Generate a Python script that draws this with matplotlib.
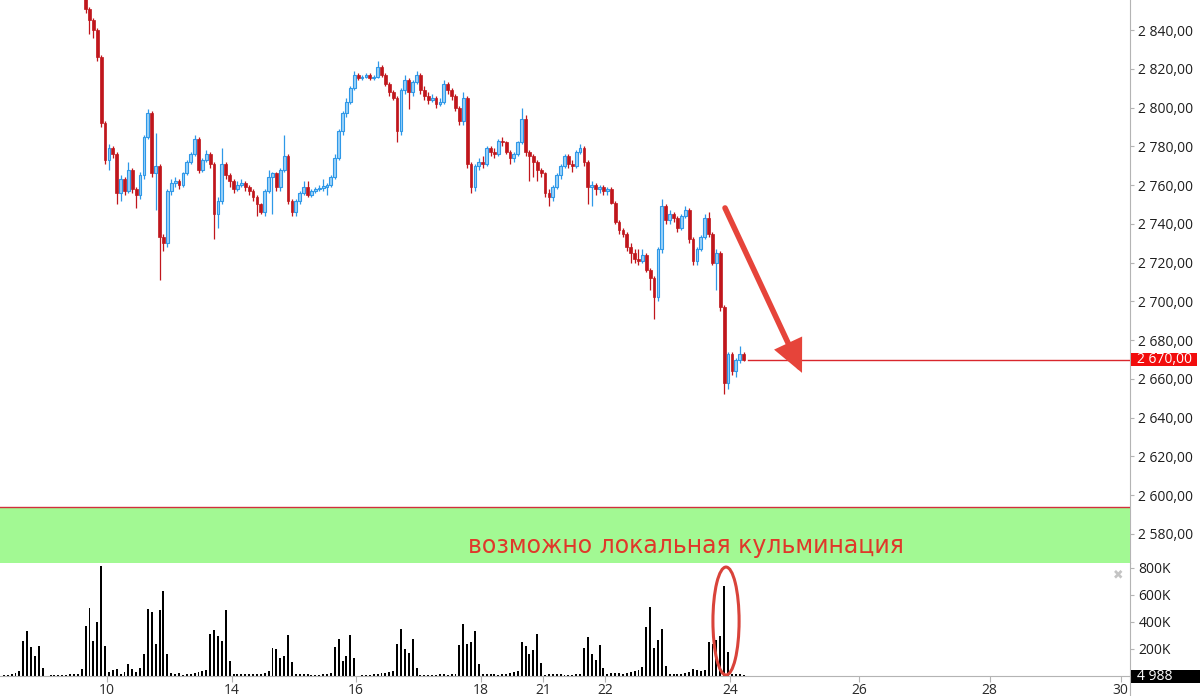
import matplotlib
matplotlib.use("Agg")
import matplotlib.pyplot as plt
import numpy as np
from matplotlib.patches import Ellipse, Rectangle
from matplotlib.lines import Line2D
from matplotlib.transforms import blended_transform_factory

plt.rcParams['font.family'] = ['Open Sans', 'DejaVu Sans']

# ---------------- data ----------------
BARS_PER_DAY = 16
session_days = [8, 9, 10, 11, 14, 15, 16, 17, 18, 21, 22, 23, 24]
first_bar = 5          # first visible bar of the first session
open0 = 2880.0

closes = {
    8: [2882, 2884, 2880, 2886, 2883, 2879, 2881, 2877, 2880, 2876, 2878],
    9: [2876, 2874, 2877, 2873, 2870, 2872, 2868, 2866, 2864, 2861, 2851, 2845, 2840, 2826, 2792, 2773],
    10: [2779, 2776, 2756, 2763, 2757, 2768, 2758, 2755, 2765, 2785, 2797, 2766, 2770, 2733, 2730, 2757],
    11: [2761, 2762, 2760, 2766, 2772, 2776, 2784, 2768, 2773, 2776, 2771, 2745, 2752, 2771, 2765, 2762],
    14: [2758, 2760, 2761, 2759, 2757, 2754, 2750, 2746, 2757, 2764, 2766, 2759, 2768, 2775, 2752, 2746],
    15: [2752, 2756, 2759, 2755, 2757, 2758, 2758.6, 2759, 2760, 2764, 2774, 2788, 2797, 2803, 2810, 2817],
    16: [2815, 2816, 2817, 2815, 2816, 2821, 2817, 2812, 2808, 2805, 2788, 2809, 2814, 2808, 2813, 2817],
    17: [2809, 2806, 2804, 2805, 2802, 2803, 2812, 2809, 2806, 2800, 2793, 2805, 2771, 2759, 2770, 2772],
    18: [2771, 2779, 2777, 2776, 2783, 2782, 2777, 2774, 2776, 2782, 2794, 2777, 2775, 2772, 2768, 2766],
    21: [2756, 2754, 2759, 2765, 2770, 2775, 2771, 2770, 2777, 2779, 2772, 2759, 2760, 2758, 2759, 2757],
    22: [2758, 2751, 2741, 2737, 2735, 2728, 2725, 2722, 2721, 2724, 2716, 2712, 2702, 2727, 2749, 2742],
    23: [2745, 2743, 2738, 2744, 2747, 2732, 2721, 2727, 2733, 2743, 2735, 2720, 2725, 2697, 2658, 2673],
    24: [2664, 2670, 2673, 2670],
}
highs = {
    8: [2884, 2886, 2885, 2888, 2887, 2884, 2883, 2882, 2882, 2881, 2880],
    9: [2879, 2877, 2879, 2878, 2874, 2874, 2873, 2869, 2867, 2865, 2862, 2852, 2846, 2841, 2827, 2793],
    10: [2781, 2780, 2777, 2765, 2764, 2772, 2769, 2759, 2767, 2786, 2799, 2798, 2787, 2771, 2735, 2758],
    11: [2763, 2764, 2763, 2767, 2773, 2777, 2786, 2785, 2774, 2778, 2777, 2772, 2754, 2779, 2772, 2766],
    14: [2763, 2762, 2763, 2762, 2760, 2758, 2755, 2751, 2758, 2768, 2767, 2767, 2769, 2786, 2776, 2753],
    15: [2753, 2757, 2762, 2762, 2758, 2759, 2760, 2763, 2761, 2765, 2776, 2789, 2798, 2805, 2811, 2819],
    16: [2818, 2817, 2818, 2818, 2817, 2824, 2822, 2818, 2813, 2809, 2806, 2810, 2817, 2815, 2814, 2819],
    17: [2818, 2811, 2808, 2807, 2806, 2805, 2814, 2813, 2810, 2807, 2801, 2808, 2806, 2772, 2771, 2774],
    18: [2775, 2780, 2780, 2779, 2784, 2785, 2783, 2778, 2777, 2783, 2800, 2796, 2778, 2776, 2773, 2769],
    21: [2767, 2758, 2760, 2766, 2771, 2776, 2776, 2773, 2778, 2781, 2780, 2773, 2762, 2761, 2760, 2760],
    22: [2759, 2759, 2752, 2742, 2738, 2736, 2730, 2727, 2727, 2727, 2725, 2717, 2713, 2728, 2753, 2750],
    23: [2747, 2746, 2744, 2745, 2749, 2748, 2733, 2728, 2734, 2745, 2746, 2736, 2727, 2726, 2698, 2674],
    24: [2674, 2671, 2677, 2674],
}
lows = {
    8: [2878, 2880, 2878, 2879, 2881, 2877, 2877, 2875, 2876, 2874, 2875],
    9: [2874, 2872, 2873, 2871, 2868, 2869, 2866, 2863, 2862, 2858, 2849, 2838, 2836, 2824, 2790, 2771],
    10: [2768, 2774, 2750, 2752, 2755, 2756, 2756, 2748, 2753, 2763, 2784, 2764, 2747, 2711, 2726, 2728],
    11: [2755, 2759, 2758, 2759, 2765, 2771, 2775, 2766, 2767, 2772, 2769, 2732, 2738, 2750, 2763, 2759],
    14: [2756, 2757, 2759, 2757, 2755, 2752, 2744, 2745, 2744, 2756, 2745, 2757, 2757, 2767, 2750, 2744],
    15: [2744, 2750, 2755, 2754, 2754, 2756, 2757, 2757, 2755, 2759, 2763, 2773, 2786, 2795, 2802, 2809],
    16: [2814, 2814, 2815, 2814, 2814, 2815, 2816, 2811, 2806, 2804, 2782, 2786, 2807, 2799, 2806, 2812],
    17: [2807, 2804, 2802, 2803, 2800, 2801, 2802, 2807, 2804, 2798, 2791, 2791, 2769, 2756, 2757, 2768],
    18: [2769, 2770, 2775, 2774, 2775, 2780, 2776, 2771, 2772, 2775, 2781, 2775, 2762, 2764, 2762, 2764],
    21: [2754, 2749, 2752, 2758, 2763, 2769, 2769, 2767, 2769, 2776, 2770, 2750, 2749, 2755, 2756, 2755],
    22: [2755, 2750, 2740, 2735, 2733, 2726, 2720, 2720, 2719, 2720, 2715, 2706, 2691, 2700, 2725, 2740],
    23: [2740, 2741, 2736, 2737, 2743, 2730, 2719, 2719, 2726, 2732, 2733, 2719, 2706, 2695, 2652, 2655],
    24: [2662, 2661, 2668, 2669],
}
volumes_k = {
    8: [8, 10, 15, 22, 35, 261, 335, 213, 150, 222, 59],
    9: [3, 5, 6, 6, 8, 10, 12, 12, 15, 52, 372, 500, 260, 402, 818, 222],
    10: [32, 44, 52, 14, 30, 89, 55, 30, 59, 163, 496, 474, 237, 488, 629, 163],
    11: [22, 15, 20, 8, 12, 14, 20, 30, 37, 44, 311, 340, 296, 261, 488, 111],
    14: [12, 12, 15, 12, 12, 12, 15, 12, 25, 37, 207, 200, 133, 150, 303, 104],
    15: [12, 12, 12, 12, 10, 10, 10, 12, 12, 25, 215, 274, 111, 148, 303, 133],
    16: [2, 5, 8, 10, 15, 17, 20, 22, 30, 37, 234, 351, 200, 168, 272, 62],
    17: [5, 5, 5, 5, 10, 12, 12, 10, 12, 15, 230, 383, 234, 250, 331, 86],
    18: [15, 12, 12, 12, 8, 15, 15, 20, 27, 37, 249, 220, 165, 190, 309, 94],
    21: [8, 15, 12, 15, 15, 8, 8, 8, 15, 17, 205, 286, 160, 116, 227, 57],
    22: [18, 20, 20, 20, 12, 25, 32, 40, 44, 67, 360, 508, 205, 270, 346, 72],
    23: [12, 15, 17, 17, 20, 27, 54, 44, 35, 48, 250, 240, 264, 294, 664, 175],
    24: [15, 17, 12, 5],
}

tick_labels = ["10", "14", "16", "18", "21", "22", "24", "26", "28", "30"]
future_tick_pos = [12.07, 14.17, 16.27]
last_price = 2670.0
last_volume = 4988
price_ticks = list(range(2580, 2841, 20))
volume_ticks_k = [200, 400, 600, 800]
annotation_text = "возможно локальная кульминация"

# ---------------- build series ----------------
xs, o_list, c_list, h_list, l_list, v_list = [], [], [], [], [], []
prev = open0
for k, day in enumerate(session_days):
    start = first_bar if k == 0 else 0
    for j, c in enumerate(closes[day]):
        xs.append((k - 2) + (start + j + 0.5) / BARS_PER_DAY)
        o_list.append(prev)
        c_list.append(c)
        h_list.append(highs[day][j])
        l_list.append(lows[day][j])
        v_list.append(volumes_k[day][j] * 1000)
        prev = c
xs = np.array(xs); O = np.array(o_list, float); C = np.array(c_list, float)
H = np.maximum(np.array(h_list, float), np.maximum(O, C))
L = np.minimum(np.array(l_list, float), np.minimum(O, C))
V = np.array(v_list, float)
up = C >= O

# ---------------- figure ----------------
W, Hpx = 1200, 696
fig = plt.figure(figsize=(W / 100, Hpx / 100), dpi=100)
axr = 1130 / W
ax = fig.add_axes([0, (Hpx - 563) / Hpx, axr, 563 / Hpx])
axv = fig.add_axes([0, (Hpx - 676) / Hpx, axr, (676 - 563) / Hpx], sharex=ax)

xmin = -107 / 62.3
xmax = (1130 - 107) / 62.3
ax.set_xlim(xmin, xmax)
ax.set_ylim(2565.0, 2855.5)
axv.set_ylim(0, 837000)

red_c = '#c0161c'
blue_edge = '#2e98e8'
blue_face = '#9ad2f8'
bw = 0.72 / BARS_PER_DAY

# wicks
ax.vlines(xs[~up], L[~up], H[~up], color=red_c, lw=0.9, zorder=2)
ax.vlines(xs[up], L[up], H[up], color=blue_edge, lw=0.9, zorder=2)
# bodies
bh = np.maximum(np.abs(C - O), 0.7)
bb = np.minimum(O, C)
ax.bar(xs[~up], bh[~up], bottom=bb[~up], width=bw, color=red_c,
       edgecolor=red_c, linewidth=0.5, zorder=3)
ax.bar(xs[up], bh[up], bottom=bb[up], width=bw, color=blue_face,
       edgecolor=blue_edge, linewidth=0.8, zorder=3)

# volume bars
axv.bar(xs, V, width=0.5 / BARS_PER_DAY, color='black', zorder=2)

# green band + top red line
band_top = 2594.0
ax.add_patch(Rectangle((xmin, 2565.0), xmax - xmin, band_top - 2565.0,
                       facecolor='#a2f993', edgecolor='none', zorder=4))
ax.axhline(band_top, color='#d0303c', lw=1.0, zorder=5)
ax.text(9.29, 2574.0, annotation_text, color='#e0382a', fontsize=17,
        family=['DejaVu Sans'], ha='center', va='center', zorder=6)

# last price line
ax.plot([10.29, xmax], [last_price, last_price], color='#d9262c', lw=1.0, zorder=5)

# arrow
ax.annotate("", xy=(11.156, 2663.1), xytext=(9.92, 2748.2),
            arrowprops=dict(arrowstyle='-|>,head_length=0.85,head_width=0.4',
                            mutation_scale=20, lw=4.0, color='#e6443a',
                            shrinkA=0, shrinkB=0, joinstyle='miter'),
            zorder=7)

# ellipse on volume
axv.add_patch(Ellipse((9.936, 407000), 0.42, 800000, fill=False,
                      edgecolor='#d9433a', lw=2.2, zorder=5))

# ---------------- axes styling ----------------
grey = '#b4b4b4'
for a in (ax, axv):
    for s in ('left', 'top'):
        a.spines[s].set_visible(False)
    a.spines['right'].set_color(grey)
    a.spines['bottom'].set_color(grey)
    a.yaxis.tick_right()
    a.tick_params(axis='y', length=3, color=grey, labelsize=10,
                  labelcolor='#1e1e1e', pad=3)
    a.set_facecolor('white')

ax.set_yticks(price_ticks)
ax.set_yticklabels([f"{v:,}".replace(",", " ") + ",00" for v in price_ticks])
ax.tick_params(axis='x', bottom=False, labelbottom=False)

axv.set_yticks([v * 1000 for v in volume_ticks_k])
axv.set_yticklabels([f"{v}K" for v in volume_ticks_k])

trading_pos = [session_days.index(int(t)) - 2 for t in tick_labels[:7]]
axv.set_xticks(trading_pos + future_tick_pos)
axv.set_xticklabels(tick_labels)
axv.tick_params(axis='x', length=4, color=grey, labelsize=10,
                labelcolor='#2a2a2a', pad=1)

# red last-price label
tr = blended_transform_factory(ax.transAxes, ax.transData)
ax.add_patch(Rectangle((1131 / 1130, last_price - 3.6), (1197 - 1131) / 1130, 7.2,
                       transform=tr, facecolor='#f20d0d', edgecolor='none',
                       clip_on=False, zorder=8))
ax.text(1137 / 1130, last_price, f"{int(last_price):,}".replace(",", " ") + ",00",
        transform=tr, color='white', fontsize=10, va='center', ha='left',
        clip_on=False, zorder=9)

# black last-volume label
trv = blended_transform_factory(axv.transAxes, axv.transData)
axv.add_patch(Rectangle((1131 / 1130, -52000), (1200 - 1131) / 1130, 100000,
                        transform=trv, facecolor='black', edgecolor='none',
                        clip_on=False, zorder=8))
axv.text(1137 / 1130, -2000, f"{last_volume:,}".replace(",", " "),
         transform=trv, color='white', fontsize=10, va='center', ha='left',
         clip_on=False, zorder=9)

# close icon
axv.text(1118 / 1130, 748000, "✖", transform=trv, color='#c4c4c4', fontsize=9,
         family=['DejaVu Sans'], ha='center', va='center')

# continue axis line to the bottom
fig.add_artist(Line2D([axr, axr], [0, (Hpx - 676) / Hpx], color=grey, lw=0.8,
                      transform=fig.transFigure))

fig.savefig("out.png", dpi=100)
